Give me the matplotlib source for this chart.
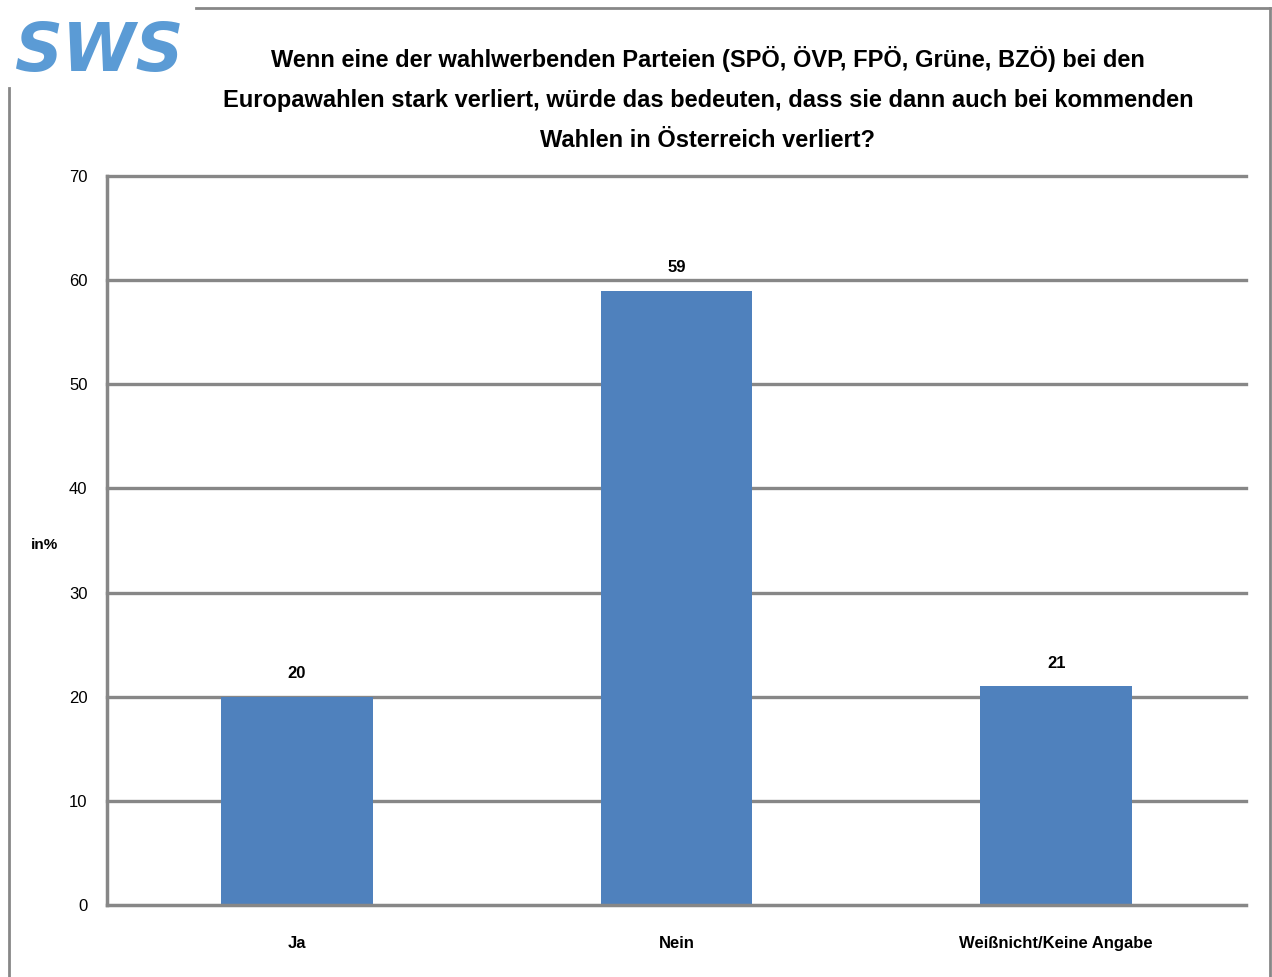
import matplotlib
matplotlib.use("Agg")
import matplotlib.pyplot as plt
from matplotlib.lines import Line2D

categories = ["Ja", "Nein", "Weißnicht/Keine Angabe"]
values = [20, 59, 21]
yticks = [0, 10, 20, 30, 40, 50, 60, 70]
title = ("Wenn eine der wahlwerbenden Parteien (SPÖ, ÖVP, FPÖ, Grüne, BZÖ) bei den\n"
         "Europawahlen stark verliert, würde das bedeuten, dass sie dann auch bei kommenden\n"
         "Wahlen in Österreich verliert?")

W, H = 1272, 977
fig = plt.figure(figsize=(W/100, H/100), dpi=100)
plt.rcParams['font.family'] = ['Liberation Sans', 'DejaVu Sans']

grid_c = "#878787"
bar_c = "#4F81BD"

ax = fig.add_axes([107/W, 1-905/H, (1246-107)/W, (905-176)/H])
x = list(range(len(categories)))
ax.bar(x, values, width=0.4, color=bar_c, zorder=3)
ax.set_xlim(-0.5, 2.5)
ax.set_ylim(0, 70)
ax.set_yticks(yticks)
ax.set_yticklabels([str(t) for t in yticks], fontsize=12)
ax.set_xticks(x)
ax.set_xticklabels(categories, fontsize=12, fontweight='bold')
ax.tick_params(axis='y', length=0, pad=14)
ax.tick_params(axis='x', length=0, pad=22)
for t in yticks[1:]:
    ax.axhline(t, color=grid_c, linewidth=2.4, zorder=0, clip_on=False)
for s in ['top', 'right']:
    ax.spines[s].set_visible(False)
ax.spines['left'].set_color(grid_c)
ax.spines['left'].set_linewidth(2.5)
ax.spines['bottom'].set_color(grid_c)
ax.spines['bottom'].set_linewidth(2.5)
ax.spines['bottom'].set_zorder(4)
for xi, v in zip(x, values):
    ax.text(xi, v + 1.5, str(v), ha='center', va='bottom', fontsize=12, fontweight='bold')

fig.text(45/W, 1-545/H, "in%", fontsize=11, fontweight='bold', ha='center', va='center')

fig.text(708/W, 1-99/H, title, fontsize=17, fontweight='bold', ha='center', va='center',
         linespacing=1.95)

# logo
fig.text(100/W, 1-52/H, "SWS", fontsize=48, fontweight='heavy', style='italic',
         color="#5B9BD5", ha='center', va='center', family='DejaVu Sans')

# frame lines
def fl(x0, y0, x1, y1):
    fig.add_artist(Line2D([x0/W, x1/W], [1-y0/H, 1-y1/H], color=grid_c, linewidth=2))
fl(196, 8, 1270, 8)
fl(1270, 8, 1270, 977)
fl(9, 88, 9, 977)

fig.savefig("out.png", dpi=100)
